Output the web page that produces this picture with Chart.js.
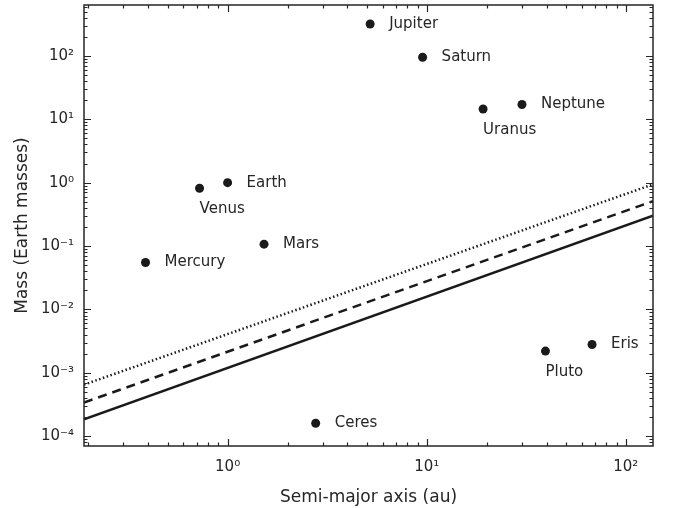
<!DOCTYPE html>
<html>
<head>
<meta charset="utf-8">
<script src="https://cdn.jsdelivr.net/npm/chart.js@4/dist/chart.umd.min.js"></script>
<style>
  html, body { margin: 0; padding: 0; background: #fff; }
  #wrap { width: 673px; height: 508px; }
</style>
</head>
<body>
<div id="wrap"><canvas id="chart" width="673" height="508"></canvas></div>
<script>
const planets = ['Mercury', 'Venus', 'Earth', 'Mars', 'Ceres', 'Jupiter', 'Saturn', 'Uranus', 'Neptune', 'Pluto', 'Eris']
const semiMajor = [0.387, 0.723, 1.0, 1.524, 2.77, 5.2, 9.54, 19.2, 30.1, 39.5, 67.7]
const mass = [0.055, 0.815, 1.0, 0.107, 0.00016, 317.8, 95.2, 14.5, 17.1, 0.0022, 0.0028]
// labels drawn under the dot instead of to the right
const labelBelow = ['Venus', 'Uranus', 'Pluto']

const lineX = [0.19, 137]
const solidY = [1.85e-4, 0.30]
const dashedY = [3.4e-4, 0.51]
const dottedY = [6.5e-4, 0.94]

const X_MIN = 0.19, X_MAX = 137
const Y_MIN = 7.2e-5, Y_MAX = 635

const INK = '#262626'
const FONT = 'DejaVu Sans'

const sup = { '0': '⁰', '1': '¹', '2': '²', '3': '³', '4': '⁴', '-': '⁻' }
const isPow = (v) => Math.abs(Math.log10(v) - Math.round(Math.log10(v))) < 1e-6
const powLabel = (v) => isPow(v) ? '10' + String(Math.round(Math.log10(v))).split('').map(c => sup[c]).join('') : ''
// only keep decades as labelled ticks
const decadesOnly = (scale) => { scale.ticks = scale.ticks.filter(t => isPow(t.value)) }

const toXY = (xs, ys) => xs.map((x, i) => ({ x, y: ys[i] }))

// inside ticks on all four sides + frame
const frameTicks = {
  id: 'frameTicks',
  afterDraw(chart) {
    const { ctx, chartArea: a, scales } = chart
    ctx.save()
    ctx.strokeStyle = INK
    ctx.lineWidth = 1.2
    const drawTicks = (scale, min, max, horiz) => {
      for (let k = Math.floor(Math.log10(min)); k <= Math.ceil(Math.log10(max)); k++) {
        for (let m = 1; m <= 9; m++) {
          const v = m * Math.pow(10, k)
          if (v < min || v > max) continue
          const len = m === 1 ? 7 : 3.5
          const p = Math.round(scale.getPixelForValue(v)) + 0.5
          ctx.beginPath()
          if (horiz) {
            ctx.moveTo(p, a.bottom); ctx.lineTo(p, a.bottom - len)
            ctx.moveTo(p, a.top); ctx.lineTo(p, a.top + len)
          } else {
            ctx.moveTo(a.left, p); ctx.lineTo(a.left + len, p)
            ctx.moveTo(a.right, p); ctx.lineTo(a.right - len, p)
          }
          ctx.stroke()
        }
      }
    }
    drawTicks(scales.x, X_MIN, X_MAX, true)
    drawTicks(scales.y, Y_MIN, Y_MAX, false)
    ctx.lineWidth = 1.5
    ctx.strokeRect(a.left, a.top, a.right - a.left, a.bottom - a.top)
    ctx.restore()
  }
}

const pointLabels = {
  id: 'pointLabels',
  afterDatasetsDraw(chart) {
    const { ctx, scales } = chart
    ctx.save()
    ctx.fillStyle = INK
    ctx.font = '15px "' + FONT + '"'
    ctx.textAlign = 'left'
    ctx.textBaseline = 'middle'
    planets.forEach((name, i) => {
      const px = scales.x.getPixelForValue(semiMajor[i])
      const py = scales.y.getPixelForValue(mass[i])
      if (labelBelow.includes(name)) ctx.fillText(name, px, py + 21)
      else ctx.fillText(name, px + 19, py)
    })
    ctx.restore()
  }
}

new Chart('chart', {
  type: 'scatter',
  data: {
    datasets: [
      {
        label: 'solid',
        type: 'line',
        data: toXY(lineX, solidY),
        borderColor: '#1a1a1a',
        borderWidth: 2.5,
        pointRadius: 0,
        fill: false,
      },
      {
        label: 'dashed',
        type: 'line',
        data: toXY(lineX, dashedY),
        borderColor: '#1a1a1a',
        borderWidth: 2.5,
        borderDash: [9, 6],
        pointRadius: 0,
        fill: false,
      },
      {
        label: 'dotted',
        type: 'line',
        data: toXY(lineX, dottedY),
        borderColor: '#1a1a1a',
        borderWidth: 2.5,
        borderDash: [1.5, 2.5],
        pointRadius: 0,
        fill: false,
      },
      {
        label: 'planets',
        data: toXY(semiMajor, mass),
        backgroundColor: '#1a1a1a',
        borderColor: '#1a1a1a',
        pointRadius: 4.5,
        pointBorderWidth: 0,
      },
    ],
  },
  options: {
    responsive: false,
    animation: false,
    layout: { padding: { top: 5, right: 20, left: 12, bottom: 0 } },
    plugins: {
      legend: { display: false },
      tooltip: { enabled: false },
    },
    scales: {
      x: {
        type: 'logarithmic',
        min: X_MIN,
        max: X_MAX,
        grid: { display: false, drawTicks: false },
        border: { display: false },
        afterBuildTicks: decadesOnly,
        ticks: {
          autoSkip: false,
          maxRotation: 0,
          padding: 12,
          color: INK,
          font: { family: FONT, size: 15 },
          callback: (v) => powLabel(v),
        },
        title: {
          display: true,
          text: 'Semi-major axis (au)',
          color: INK,
          font: { family: FONT, size: 17 },
          padding: { top: 4, bottom: 0 },
        },
        afterFit: (s) => { s.height = 62; s.paddingLeft = 0; s.paddingRight = 0 },
      },
      y: {
        type: 'logarithmic',
        min: Y_MIN,
        max: Y_MAX,
        grid: { display: false, drawTicks: false },
        border: { display: false },
        afterBuildTicks: decadesOnly,
        ticks: {
          autoSkip: false,
          padding: 10,
          color: INK,
          font: { family: FONT, size: 15 },
          callback: (v) => powLabel(v),
        },
        title: {
          display: true,
          text: 'Mass (Earth masses)',
          color: INK,
          font: { family: FONT, size: 17 },
          padding: { top: 0, bottom: 4 },
        },
        afterFit: (s) => { s.width = 72; s.paddingTop = 0; s.paddingBottom = 0 },
      },
    },
  },
  plugins: [frameTicks, pointLabels],
})
</script>
</body>
</html>
